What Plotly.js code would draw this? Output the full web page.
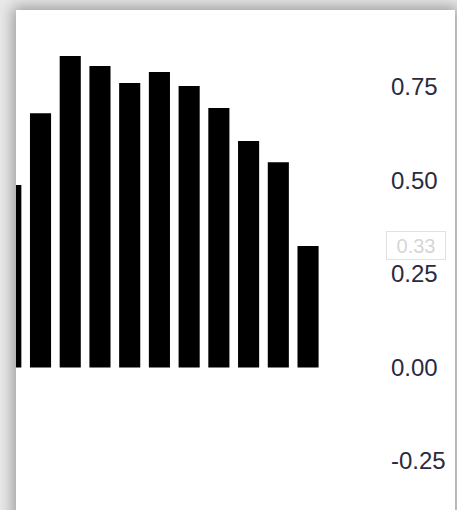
<!DOCTYPE html>
<html>
<head>
<meta charset="utf-8">
<script src="https://cdn.plot.ly/plotly-3.0.1.min.js"></script>
<style>
  html, body { margin: 0; padding: 0; width: 457px; height: 510px; overflow: hidden; background: #e9e9e9; }
  #panel { position: absolute; left: 16px; top: 10px; width: 439px; height: 520px; background: #fff;
           box-shadow: 0 0 14px 3px rgba(0,0,0,0.35); }
  #chart { position: absolute; left: 0; top: 0; width: 439px; height: 500px; }
</style>
</head>
<body>
<div id="panel"><div id="chart"></div></div>
<script>
// Data
const positions = [0, 1, 2, 3, 4, 5, 6, 7, 8, 9, 10];
const values = [0.488, 0.680, 0.833, 0.806, 0.761, 0.790, 0.753, 0.694, 0.606, 0.549, 0.325];
const tickValues = [-0.25, 0, 0.25, 0.5, 0.75];
const tickLabels = ["-0.25", "0.00", "0.25", "0.50", "0.75"];

const lastValue = values[values.length - 1];

const trace = {
  type: 'bar',
  x: positions,
  y: values,
  marker: { color: '#000000', line: { width: 0 } },
  hoverinfo: 'none'
};

const layout = {
  width: 439,
  height: 500,
  margin: { l: 0, r: 67, t: 0, b: 0, pad: 0 },
  paper_bgcolor: '#ffffff',
  plot_bgcolor: '#ffffff',
  showlegend: false,
  bargap: 0.29,
  font: { family: 'Liberation Sans, Arial, sans-serif', color: '#2a2a40' },
  xaxis: {
    range: [0.175, 12.69],
    visible: false,
    showgrid: false,
    zeroline: false,
    fixedrange: true
  },
  yaxis: {
    side: 'right',
    range: [-0.381, 0.956],
    tickvals: tickValues,
    ticktext: tickLabels,
    showgrid: false,
    zeroline: false,
    showline: false,
    ticks: '',
    ticklabelstandoff: 2,
    tickfont: { size: 24, color: '#2a2a40', family: 'Liberation Sans, Arial, sans-serif' },
    fixedrange: true
  },
  annotations: [{
    xref: 'paper', yref: 'y',
    x: 1, y: lastValue,
    xanchor: 'left', yanchor: 'middle',
    xshift: -2,
    text: lastValue.toFixed(2),
    showarrow: false,
    font: { size: 20, color: '#d6d6d6', family: 'Liberation Sans, Arial, sans-serif' },
    bgcolor: '#ffffff',
    bordercolor: '#e2e2e2',
    borderwidth: 1,
    borderpad: 1,
    width: 56,
    height: 25
  }]
};

Plotly.newPlot('chart', [trace], layout, { staticPlot: true, displayModeBar: false });
</script>
</body>
</html>
